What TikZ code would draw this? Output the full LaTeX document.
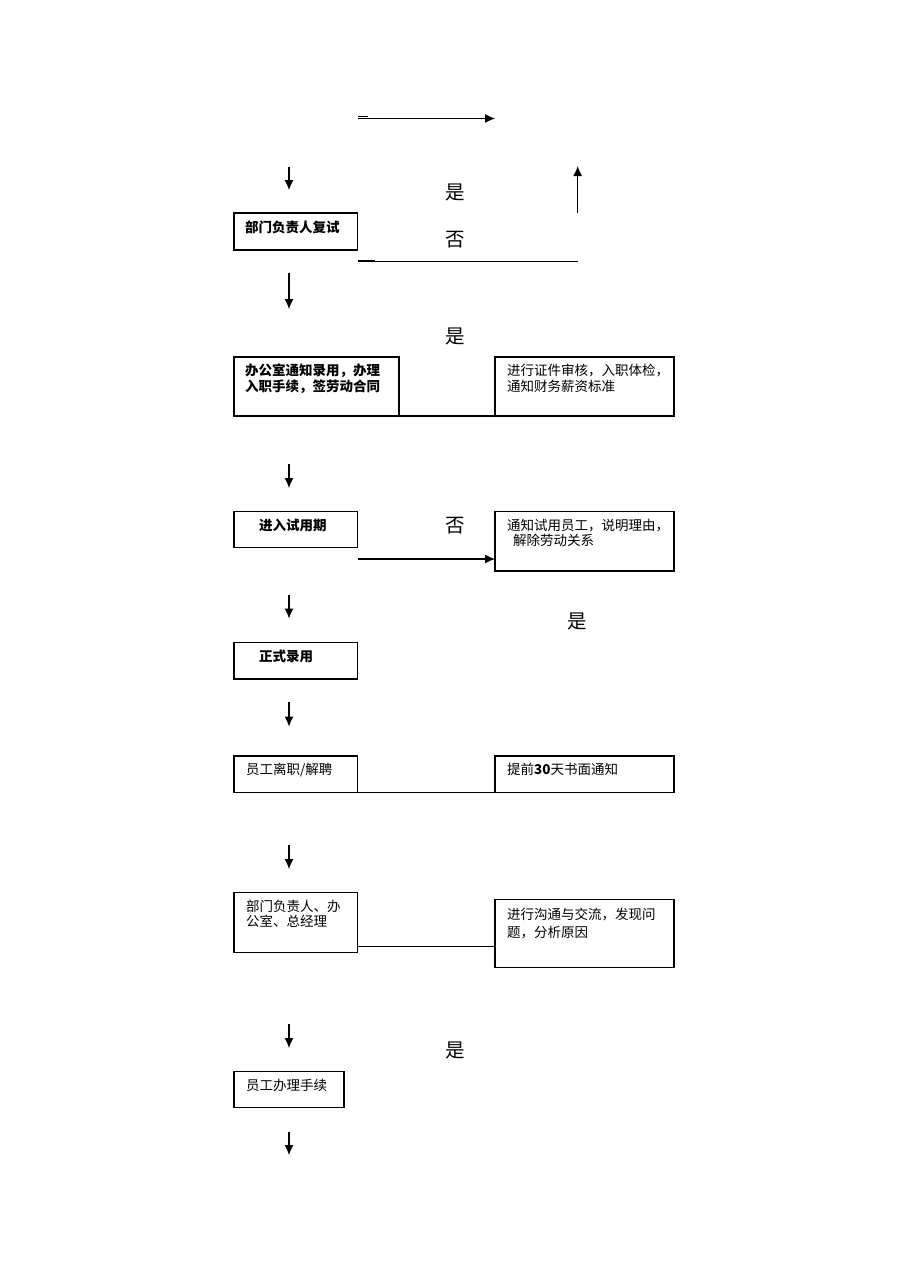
\documentclass[tikz,border=0pt]{standalone}
\usepackage{fontspec}
\newfontfamily\cjk{Noto Sans CJK SC}
\usetikzlibrary{arrows.meta}

\tikzset{
  box/.style={draw, line width=1.3pt, inner sep=0pt, outer sep=0pt, anchor=north west},
  txt/.style={anchor=north west, inner sep=0pt, align=left,
    font=\cjk\fontsize{13.5}{15.5}\selectfont},
  btxt/.style={txt, font=\cjk\bfseries\fontsize{13.5}{15.5}\selectfont},
  yn/.style={inner sep=0pt, font=\cjk\fontsize{19.5}{20}\selectfont},
  link/.style={line width=1.1pt},
  arr/.style={link, -{Latex[length=10pt,width=9pt]}}
}

\begin{document}
\begin{tikzpicture}[x=1pt,y=-1pt]
\useasboundingbox[fill=white] (0,0) rectangle (909,1286);
% boxes on the left
\node[box, minimum width=123.5pt, minimum height=37pt] (fushi) at (234,213) {};
\node[box, minimum width=165pt, minimum height=59pt] (luyong) at (234,357) {};
\node[box, minimum width=123.5pt, minimum height=36pt] (shiyong) at (234,511.7) {};
\node[box, minimum width=123.5pt, minimum height=36.3pt] (zhengshi) at (234,642.7) {};
\node[box, minimum width=123.5pt, minimum height=36.3pt] (lizhi) at (234,756) {};
\node[box, minimum width=123.5pt, minimum height=60pt] (goutong) at (234,892.7) {};
\node[box, minimum width=110pt, minimum height=36pt] (shouxu) at (234,1071.7) {};
% boxes on the right
\node[box, minimum width=179pt, minimum height=59pt] (shenhe) at (495,357) {};
\node[box, minimum width=179pt, minimum height=59.3pt] (jiechu) at (495,511.7) {};
\node[box, minimum width=179pt, minimum height=36.3pt] (tongzhi) at (495,756) {};
\node[box, minimum width=179pt, minimum height=68.4pt] (jiaoliu) at (495,899.3) {};

% texts in the boxes
\node[btxt] (fushi-t) at ([shift={(11,8)}]fushi.north west) {部门负责人复试};
\node[btxt] (luyong-t) at ([shift={(11,7)}]luyong.north west) {办公室通知录用，办理\\入职手续，签劳动合同};
\node[btxt] (shiyong-t) at ([shift={(25,7)}]shiyong.north west) {进入试用期};
\node[btxt] (zhengshi-t) at ([shift={(25,7)}]zhengshi.north west) {正式录用};
\node[txt] (lizhi-t) at ([shift={(12,7)}]lizhi.north west) {员工离职/解聘};
\node[txt] (goutong-t) at ([shift={(12,7)}]goutong.north west) {部门负责人、办\\公室、总经理};
\node[txt] (shouxu-t) at ([shift={(12,7)}]shouxu.north west) {员工办理手续};
\node[txt] (shenhe-t) at ([shift={(12,7)}]shenhe.north west) {进行证件审核，入职体检，\\通知财务薪资标准};
\node[txt] (jiechu-t) at ([shift={(12,7)}]jiechu.north west) {通知试用员工，说明理由，\\\hspace{6pt}解除劳动关系};
\node[txt] (tongzhi-t) at ([shift={(12,7)}]tongzhi.north west) {提前\textbf{30}天书面通知};
\node[txt, font=\cjk\fontsize{13.5}{18}\selectfont] (jiaoliu-t) at ([shift={(12,9)}]jiaoliu.north west) {进行沟通与交流，发现问\\题，分析原因};

% yes / no
\node[yn] (shi1) at (455,192.7) {是};
\node[yn] (fou1) at (455,239.3) {否};
\node[yn] (shi2) at (455,336.7) {是};
\node[yn] (fou2) at (455,526) {否};
\node[yn] (shi3) at (577.7,621.7) {是};
\node[yn] (shi4) at (455,1050) {是};

% down arrows
\foreach \ys/\ye [count=\k] in {166.7/190, 272.7/309, 464/488, 595/618.5,
    702.3/726.5, 845/869, 1024.3/1048, 1131.7/1155}{
  \coordinate (d\k a) at (289,\ys);
  \coordinate (d\k b) at (289,\ye);
  \draw[arr] (d\k a) -- (d\k b);
}

% top loop
\coordinate (top-a) at (357.5,118.5);
\coordinate (top-b) at (495,118.5);
\draw[arr] (top-a) -- (top-b);
\draw[link] (358,116.3) -- (368,116.3);
\coordinate (up-a) at (577.7,213);
\coordinate (up-b) at (577.7,166);
\draw[arr] (up-a) -- (up-b);
\coordinate (no-a) at (357.5,261.7);
\draw[link] (no-a) -- (no-a -| up-a);
\draw[link] (358,260.3) -- (375,260.3);

% connectors between the boxes
\draw[link] (luyong.south east) -- (shenhe.south west);
\coordinate (sy) at (357.5,559);
\draw[arr] (sy) -- (sy -| jiechu.west);
\draw[link] (lizhi.south east) -- (tongzhi.south west);
\draw[link] ([yshift=6pt]goutong.south east) -- ([yshift=6pt]goutong.south east -| jiaoliu.west);
\end{tikzpicture}
\end{document}
